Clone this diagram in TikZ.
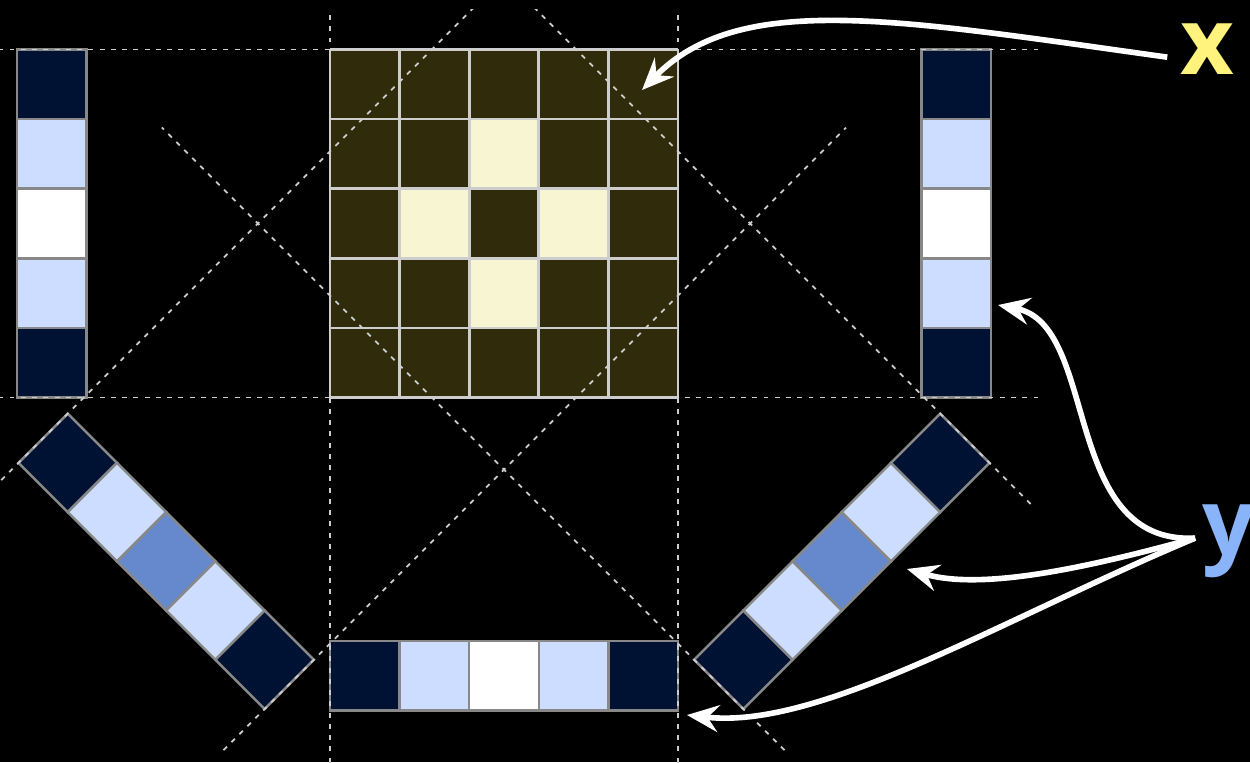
\documentclass[tikz,border=0pt]{standalone}
\usepackage{fontspec}
\setsansfont{Open Sans}
\usetikzlibrary{arrows.meta}
\definecolor{pixdark}{RGB}{48,43,11}
\definecolor{pixlight}{RGB}{248,245,210}
\definecolor{bardark}{RGB}{0,18,51}
\definecolor{barlight}{RGB}{204,221,255}
\definecolor{barmid}{RGB}{102,136,204}
\definecolor{raygray}{RGB}{205,205,205}
\definecolor{edgegray}{RGB}{136,136,136}
\definecolor{xyellow}{RGB}{255,243,125}
\definecolor{yblue}{RGB}{138,180,250}
\begin{document}
\begin{tikzpicture}[
    ray/.style={raygray,line width=.7pt,dash pattern=on 2pt off 2.6pt},
    cellbox/.style={draw=edgegray,line width=1pt},
    arr/.style={white,line width=2.3pt,-{Stealth[length=13pt,width=11pt,inset=4.5pt]}},
    lab/.style={inner sep=0pt,font=\sffamily\bfseries\fontsize{38}{40}\selectfont}]
  \useasboundingbox[fill=black] (-7.2414,-7.7371) rectangle (10.7184,3.2112);
  \def\d{6.364} % 4.5*sqrt(2)
  % the 5x5 image
  \fill[pixdark] (-2.5,-2.5) rectangle (2.5,2.5);
  \foreach \c/\r in {0/1,-1/0,1/0,0/-1}
    \fill[pixlight] (\c-.5,\r-.5) rectangle (\c+.5,\r+.5);
  \draw[raygray,line width=1.1pt,shift={(-2.5,-2.5)}] (0,0) grid (5,5);
  % straight projections
  \foreach \c [count=\i from 0] in {bardark,barlight,white,barlight,bardark} {
    \filldraw[fill=\c,cellbox] (-7,2.5-\i) rectangle (-6,1.5-\i);
    \filldraw[fill=\c,cellbox] (6,2.5-\i) rectangle (7,1.5-\i);
    \filldraw[fill=\c,cellbox] (-2.5+\i,-6) rectangle (-1.5+\i,-7);
  }
  % diagonal projections
  \foreach \a in {-45,45}
    \foreach \c [count=\i from 0] in {bardark,barlight,barmid,barlight,bardark}
      \filldraw[rotate=\a,fill=\c,cellbox] (-2.5+\i,-\d) rectangle (-1.5+\i,-\d-1);
  % rays
  \begin{scope}
    \clip (-7.2414,-7.7371) rectangle (10.7184,3.08);
    \draw[ray] (-7.75,2.5) -- (7.75,2.5) (-7.75,-2.5) -- (7.75,-2.5);
    \draw[ray] (-2.5,4.45) -- (-2.5,-7.75) (2.5,4.45) -- (2.5,-7.75);
    \foreach \a in {-45,45}
      \draw[ray,rotate=\a] (-2.5,-8.2) -- (-2.5,4.45) (2.5,-8.2) -- (2.5,4.45);
  \end{scope}
  % labels
  \node[lab,xyellow,anchor=base] (xlab) at (10.101,2.134) {x};
  \node[lab,yblue,anchor=base west] (ylab) at (10.03,-4.777) {y};
  \coordinate (xfoot) at (9.53,2.39);
  \coordinate (yfoot) at (9.93,-4.52);
  \coordinate (xtip) at (1.983,1.918);
  \coordinate (ytipa) at (7.098,-1.171);
  \coordinate (ytipb) at (5.790,-4.964);
  \coordinate (ytipc) at (2.629,-7.062);
  % arrows
  \draw[arr] (xfoot) .. controls (5.690,2.924) and (3.391,3.355) .. (xtip);
  \draw[arr] (yfoot) .. controls (7.989,-4.619) and (8.563,-1.458) .. (ytipa);
  \draw[arr] (yfoot) .. controls (8.276,-4.978) and (6.839,-5.266) .. (ytipb);
  \draw[arr] (yfoot) .. controls (7.126,-5.697) and (4.540,-7.277) .. (ytipc);
\end{tikzpicture}
\end{document}
